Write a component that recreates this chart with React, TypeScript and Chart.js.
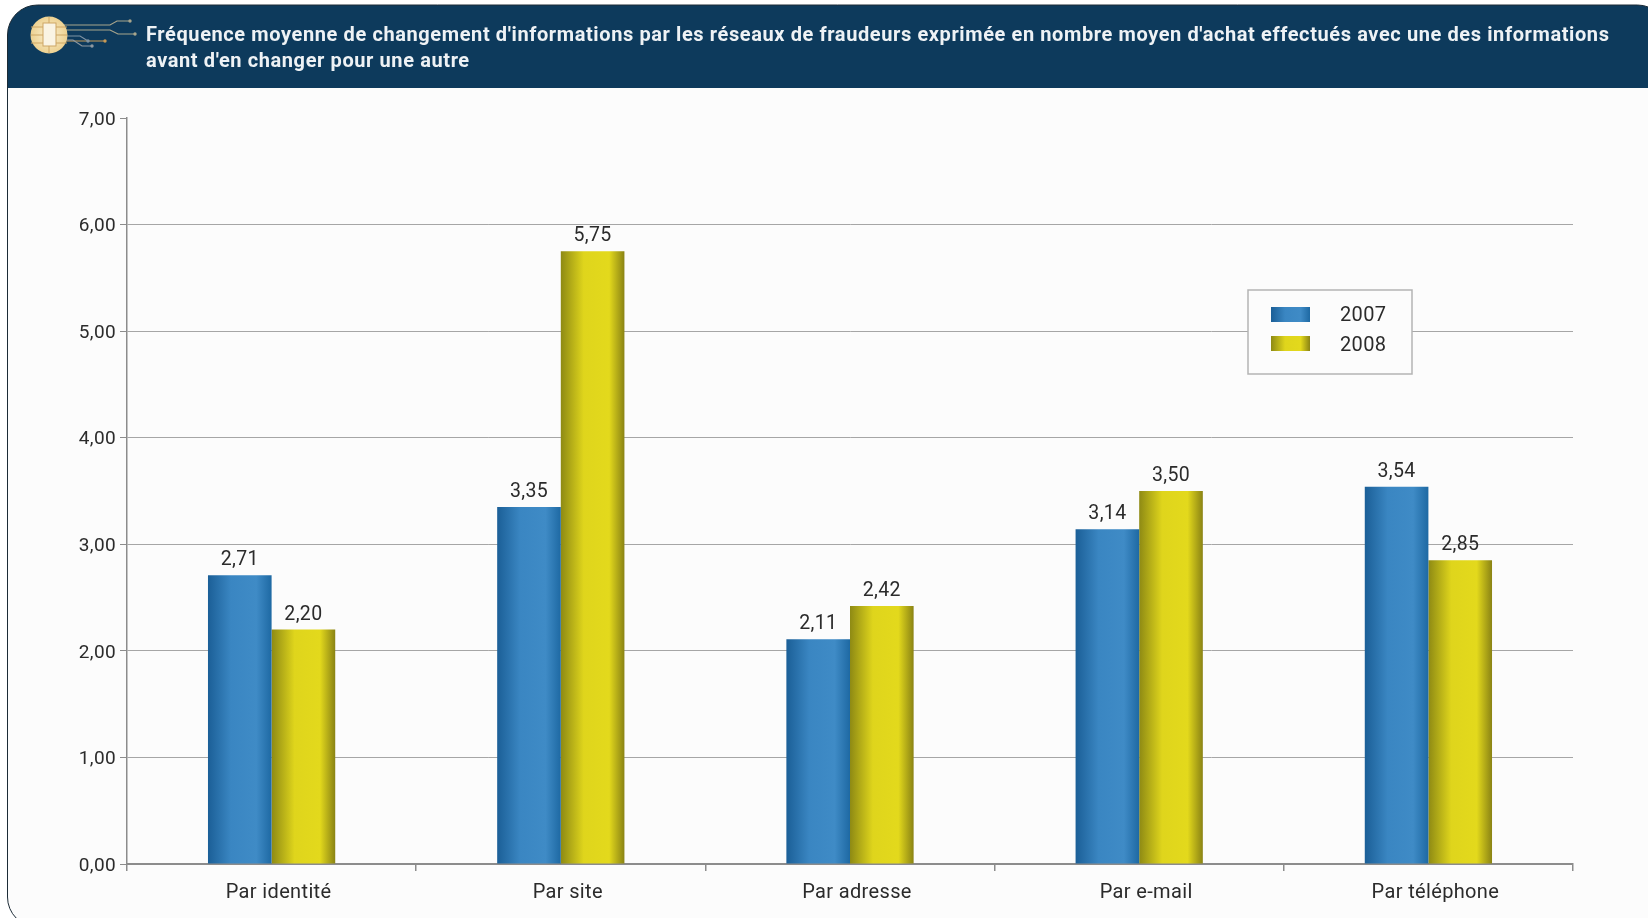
import React, { useEffect, useRef } from "react";
import { Chart, registerables } from "chart.js";

Chart.register(...registerables);

const titleLines = [
  "Fréquence moyenne de changement d'informations par les réseaux de fraudeurs exprimée en nombre moyen d'achat effectués avec une des informations",
  "avant d'en changer pour une autre",
];
const categories = ["Par identité", "Par site", "Par adresse", "Par e-mail", "Par téléphone"];
const series2007 = [2.71, 3.35, 2.11, 3.14, 3.54];
const series2008 = [2.2, 5.75, 2.42, 3.5, 2.85];
const seriesLabels = ["2007", "2008"];

const FONT = "Roboto, sans-serif";
const TEXT = "#2b2b2b";
const AXIS = "#8c8c8c";
const GRID = "#a6a6a6";
const NAVY = "#0d3a5c";

const BLUE_STOPS = ["#1b5f97", "#3a86c2", "#3f8bc6", "#1e69a3"];
const YELLOW_STOPS = ["#8e8a14", "#dfd51c", "#e3d91c", "#8a8314"];

const formatValue = (v: number) => v.toFixed(2).replace(".", ",");

function barGradient(ctx: CanvasRenderingContext2D, x0: number, x1: number, stops: string[]) {
  const g = ctx.createLinearGradient(x0, 0, x1, 0);
  g.addColorStop(0, stops[0]);
  g.addColorStop(0.36, stops[1]);
  g.addColorStop(0.76, stops[2]);
  g.addColorStop(1, stops[3]);
  return g;
}

// Horizontal shading across each bar, computed from the category scale.
function scriptedFill(stops: string[], offset: number) {
  return (c: any) => {
    const xs = c.chart.scales.x;
    if (!xs || !c.chart.ctx) return stops[1];
    const step = xs.getPixelForValue(1) - xs.getPixelForValue(0);
    const w = step * 0.22;
    const center = xs.getPixelForValue(c.dataIndex);
    if (!Number.isFinite(center) || !Number.isFinite(w)) return stops[1];
    return barGradient(c.chart.ctx, center + offset * w, center + (offset + 1) * w, stops);
  };
}

function tracePath(ctx: CanvasRenderingContext2D, pts: number[][], color: string) {
  ctx.strokeStyle = color;
  ctx.fillStyle = color;
  ctx.lineWidth = 1.2;
  ctx.beginPath();
  pts.forEach(([x, y], i) => (i ? ctx.lineTo(x, y) : ctx.moveTo(x, y)));
  ctx.stroke();
  const [ex, ey] = pts[pts.length - 1];
  ctx.beginPath();
  ctx.arc(ex, ey, 1.7, 0, Math.PI * 2);
  ctx.fill();
}

function drawChip(ctx: CanvasRenderingContext2D) {
  ctx.save();
  tracePath(ctx, [[64, 25], [110, 25], [117, 21], [130, 21]], "#a8a58c");
  tracePath(ctx, [[64, 30], [110, 30], [118, 34], [135, 34]], "#a8a58c");
  tracePath(ctx, [[64, 41], [105, 41]], "#c79a56");
  tracePath(ctx, [[64, 36], [80, 36], [88, 41]], "#7f93a3");
  tracePath(ctx, [[64, 40], [73, 40], [82, 46], [92, 46]], "#8f98a0");
  const disc = ctx.createRadialGradient(49, 35, 5, 49, 35, 19);
  disc.addColorStop(0, "#f7e8c0");
  disc.addColorStop(1, "#ecd08f");
  ctx.fillStyle = disc;
  ctx.beginPath();
  ctx.arc(49, 35, 18.5, 0, Math.PI * 2);
  ctx.fill();
  ctx.fillStyle = "#faf4e4";
  ctx.fillRect(43, 23, 13, 23);
  ctx.strokeStyle = "#cda664";
  ctx.lineWidth = 1;
  ctx.strokeRect(43, 23, 13, 23);
  ctx.beginPath();
  [27, 35, 43].forEach((y) => {
    ctx.moveTo(31, y);
    ctx.lineTo(43, y);
    ctx.moveTo(56, y);
    ctx.lineTo(67, y);
  });
  ctx.moveTo(49, 17);
  ctx.lineTo(49, 23);
  ctx.moveTo(49, 46);
  ctx.lineTo(49, 53);
  ctx.stroke();
  ctx.restore();
}

// Page panel: rounded frame, navy header band, circuit-chip emblem and heading.
const panelPlugin = {
  id: "panel",
  beforeDraw(chart: any) {
    const { ctx } = chart;
    ctx.save();
    ctx.fillStyle = "#ffffff";
    ctx.fillRect(0, 0, 1648, 918);
    ctx.beginPath();
    ctx.roundRect(7.5, 5, 1660, 922, 30);
    ctx.fillStyle = "#fcfcfc";
    ctx.fill();
    ctx.save();
    ctx.clip();
    ctx.fillStyle = NAVY;
    ctx.fillRect(0, 0, 1648, 88);
    ctx.restore();
    ctx.strokeStyle = "#1c2b36";
    ctx.lineWidth = 1;
    ctx.stroke();
    drawChip(ctx);
    ctx.fillStyle = "#eef2f5";
    ctx.font = `700 20px ${FONT}`;
    (ctx as any).letterSpacing = "0.6px";
    ctx.textAlign = "left";
    ctx.textBaseline = "middle";
    ctx.fillText(titleLines[0], 146, 36);
    ctx.fillText(titleLines[1], 146, 62);
    ctx.restore();
    // Slightly open tracking for every axis label drawn after this point.
    (ctx as any).letterSpacing = "0.35px";
  },
};

// Value captions above each bar, read from the bar elements.
const valueLabelPlugin = {
  id: "valueLabels",
  afterDatasetsDraw(chart: any) {
    const { ctx } = chart;
    ctx.save();
    ctx.fillStyle = TEXT;
    ctx.font = `400 19.5px ${FONT}`;
    ctx.textAlign = "center";
    ctx.textBaseline = "alphabetic";
    chart.data.datasets.forEach((ds: any, i: number) => {
      chart.getDatasetMeta(i).data.forEach((bar: any, j: number) => {
        ctx.fillText(formatValue(ds.data[j]), bar.x, bar.y - 10);
      });
    });
    ctx.restore();
  },
};

// Boxed key placed inside the plot area.
const keyPlugin = {
  id: "keyBox",
  afterDatasetsDraw(chart: any) {
    const { ctx } = chart;
    ctx.save();
    ctx.fillStyle = "#fcfcfc";
    ctx.fillRect(1248, 290, 164, 84);
    ctx.strokeStyle = "#b4b4b4";
    ctx.lineWidth = 1.5;
    ctx.strokeRect(1248, 290, 164, 84);
    ctx.font = `400 20px ${FONT}`;
    ctx.textAlign = "left";
    ctx.textBaseline = "middle";
    [BLUE_STOPS, YELLOW_STOPS].forEach((stops, i) => {
      const y = 307 + i * 29;
      ctx.fillStyle = barGradient(ctx, 1271, 1310, stops);
      ctx.fillRect(1271, y, 39, 15);
      ctx.fillStyle = TEXT;
      ctx.fillText(seriesLabels[i], 1340, y + 9 + i);
    });
    ctx.restore();
  },
};

export default function App() {
  const canvasRef = useRef<HTMLCanvasElement>(null);

  useEffect(() => {
    if (!canvasRef.current) return;
    const chart = new Chart(canvasRef.current, {
      type: "bar",
      data: {
        labels: categories,
        datasets: [
          {
            label: seriesLabels[0],
            data: series2007,
            backgroundColor: scriptedFill(BLUE_STOPS, -1),
            categoryPercentage: 0.44,
            barPercentage: 1,
          },
          {
            label: seriesLabels[1],
            data: series2008,
            backgroundColor: scriptedFill(YELLOW_STOPS, 0),
            categoryPercentage: 0.44,
            barPercentage: 1,
          },
        ],
      },
      options: {
        animation: false,
        responsive: false,
        devicePixelRatio: 1,
        layout: { padding: { left: 0, right: 75, top: 118, bottom: 0 } },
        plugins: { legend: { display: false }, title: { display: false }, tooltip: { enabled: false } },
        scales: {
          x: {
            afterFit(scale: any) {
              scale.height = 54;
            },
            border: { color: AXIS, width: 2 },
            grid: {
              offset: true,
              drawOnChartArea: true,
              tickLength: 7,
              tickColor: AXIS,
              lineWidth: 1.5,
              color: (c: any) => (c.index === categories.length ? AXIS : "rgba(0,0,0,0)"),
            },
            ticks: {
              color: TEXT,
              font: { family: FONT, size: 20 },
              padding: 10,
              labelOffset: 7,
              maxRotation: 0,
            },
          },
          y: {
            min: 0,
            max: 7,
            afterFit(scale: any) {
              scale.width = 127;
            },
            border: { color: AXIS, width: 1.5 },
            grid: {
              tickLength: 7,
              tickColor: AXIS,
              lineWidth: 1,
              color: (c: any) => (c.tick && c.tick.value === 7 ? "rgba(0,0,0,0)" : GRID),
            },
            ticks: {
              stepSize: 1,
              color: TEXT,
              font: { family: FONT, size: 19 },
              padding: 4,
              labelOffset: 2,
              callback: (v: any) => formatValue(Number(v)),
            },
          },
        },
      },
      plugins: [panelPlugin, valueLabelPlugin, keyPlugin],
    } as any);
    return () => chart.destroy();
  }, []);

  return (
    <div style={{ position: "fixed", left: 0, top: 0, width: 1648, height: 918 }}>
      <canvas ref={canvasRef} width={1648} height={918} style={{ display: "block" }} />
    </div>
  );
}
